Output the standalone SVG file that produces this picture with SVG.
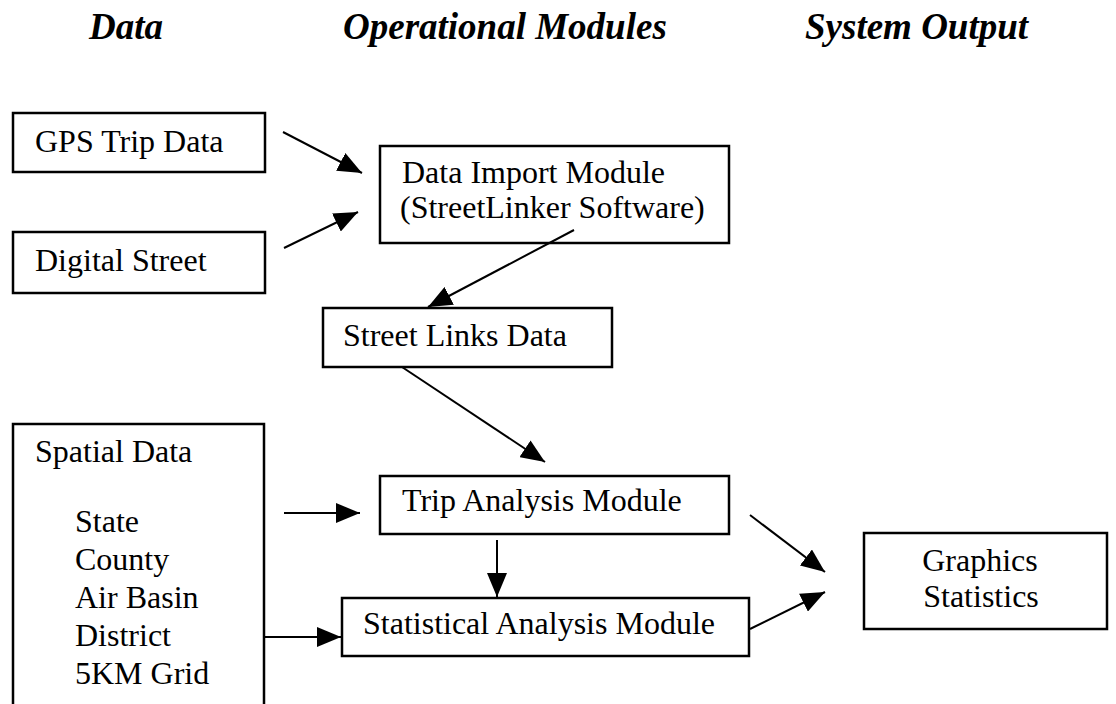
<svg xmlns="http://www.w3.org/2000/svg" width="1116" height="704" viewBox="0 0 1116 704">
  <style>
    .box { fill: #ffffff; stroke: #000000; stroke-width: 2.5; }
    .t { font-family: "Liberation Serif", "Times New Roman", serif; font-size: 32px; fill: #000000; }
    .h { font-family: "Liberation Serif", "Times New Roman", serif; font-size: 37px; font-weight: bold; font-style: italic; fill: #000000; }
    .c { stroke: #000000; stroke-width: 2; fill: none; marker-end: url(#arr); }
  </style>
  <defs>
    <marker id="arr" markerUnits="userSpaceOnUse" markerWidth="24" markerHeight="20" refX="24" refY="10" orient="auto">
      <path d="M0,0 L24,10 L0,20 z" fill="#000000"/>
    </marker>
  </defs>
  <rect x="0" y="0" width="1116" height="704" fill="#ffffff"/>

  <g id="headers">
    <text class="h" x="89" y="39">Data</text>
    <text class="h" x="343" y="39">Operational Modules</text>
    <text class="h" x="805" y="39">System Output</text>
  </g>

  <g id="gps">
    <rect class="box" x="13" y="113" width="252" height="59"/>
    <text class="t" x="35" y="152">GPS Trip Data</text>
  </g>
  <g id="digital-street">
    <rect class="box" x="13" y="232" width="252" height="61"/>
    <text class="t" x="35" y="271">Digital Street</text>
  </g>
  <g id="data-import">
    <rect class="box" x="380" y="146" width="349" height="97"/>
    <text class="t" x="402" y="183">Data Import Module</text>
    <text class="t" x="400" y="218">(StreetLinker Software)</text>
  </g>
  <g id="street-links">
    <rect class="box" x="323" y="308" width="289" height="59"/>
    <text class="t" x="343" y="346">Street Links Data</text>
  </g>
  <g id="spatial">
    <path class="box" d="M13,716 L13,424 L264,424 L264,716"/>
    <text class="t" x="35" y="462">Spatial Data</text>
    <text class="t" x="75" y="532">State</text>
    <text class="t" x="75" y="570">County</text>
    <text class="t" x="75" y="608">Air Basin</text>
    <text class="t" x="75" y="646">District</text>
    <text class="t" x="75" y="684">5KM Grid</text>
  </g>
  <g id="trip-analysis">
    <rect class="box" x="380" y="476" width="349" height="58"/>
    <text class="t" x="402" y="511">Trip Analysis Module</text>
  </g>
  <g id="statistical-analysis">
    <rect class="box" x="342" y="598" width="407" height="58"/>
    <text class="t" x="363" y="634">Statistical Analysis Module</text>
  </g>
  <g id="graphics">
    <rect class="box" x="864" y="533" width="243" height="96"/>
    <text class="t" x="980" y="571" text-anchor="middle">Graphics</text>
    <text class="t" x="981" y="607" text-anchor="middle">Statistics</text>
  </g>

  <g id="connectors">
    <line class="c" x1="283" y1="132" x2="362" y2="173"/>
    <line class="c" x1="284" y1="248" x2="358" y2="212"/>
    <line class="c" x1="574" y1="230" x2="428" y2="307"/>
    <line class="c" x1="402" y1="367" x2="545" y2="462"/>
    <line class="c" x1="284" y1="513" x2="360" y2="513"/>
    <line class="c" x1="497" y1="540" x2="497" y2="597"/>
    <line class="c" x1="264" y1="637" x2="341" y2="637"/>
    <line class="c" x1="750" y1="515" x2="825" y2="572"/>
    <line class="c" x1="750" y1="629" x2="825" y2="592"/>
  </g>
</svg>
